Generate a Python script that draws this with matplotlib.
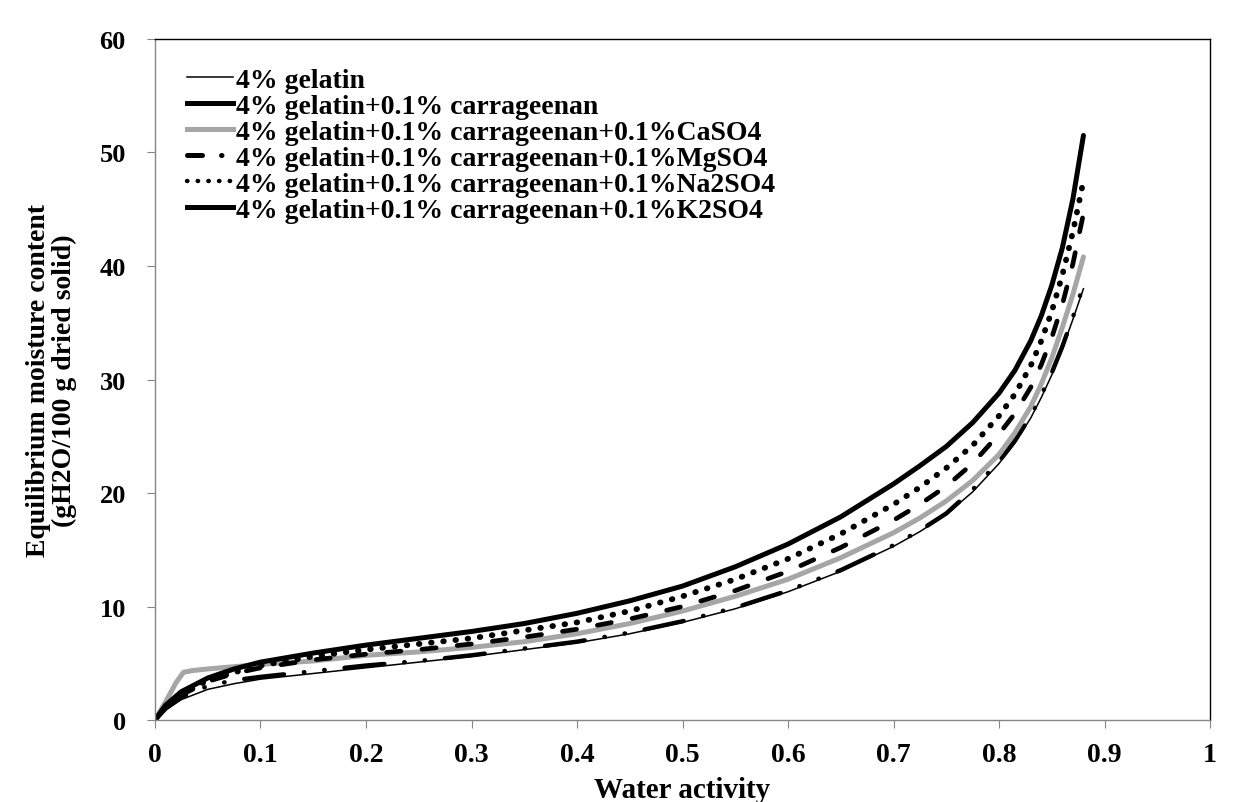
import matplotlib
matplotlib.use('Agg')
import matplotlib.pyplot as plt
from matplotlib.lines import Line2D

plt.rcParams['font.family'] = ['Liberation Serif', 'DejaVu Serif']
plt.rcParams['font.weight'] = 'bold'

# water activity points
aw = [0, 0.01, 0.025, 0.05, 0.075, 0.1, 0.15, 0.2, 0.25, 0.3, 0.35, 0.4, 0.45,
      0.5, 0.55, 0.6, 0.65, 0.7, 0.725, 0.75, 0.775, 0.8, 0.815, 0.83, 0.84,
      0.85, 0.86, 0.87, 0.88]
aw_ca = [0, 0.01, 0.02, 0.027, 0.035, 0.05, 0.075, 0.1, 0.15, 0.2, 0.25, 0.3,
         0.35, 0.4, 0.45, 0.5, 0.55, 0.6, 0.65, 0.7, 0.725, 0.75, 0.775, 0.8,
         0.815, 0.83, 0.84, 0.85, 0.86, 0.87, 0.88]

gelatin = [0, 0.9, 1.8, 2.7, 3.2, 3.6, 4.1, 4.6, 5.1, 5.6, 6.2, 6.8, 7.6,
           8.6, 9.8, 11.3, 13.1, 15.3, 16.6, 18.1, 20.1, 22.6, 24.4, 26.6, 28.4,
           30.4, 32.7, 35.3, 38.0]
carrageenan = [0, 1.1, 2.2, 3.4, 4.1, 4.6, 5.3, 5.8, 6.2, 6.7, 7.3, 8.0, 8.9,
               10.0, 11.4, 13.1, 15.2, 17.6, 19.0, 20.6, 22.6, 25.2, 27.0, 29.3, 31.3,
               33.7, 36.6, 40.2, 44.6]
caso4 = [0, 1.6, 3.3, 4.2, 4.35, 4.5, 4.7, 4.9, 5.2, 5.7, 6.0, 6.4,
         6.9, 7.6, 8.5, 9.6, 10.9, 12.4, 14.3, 16.5, 17.8, 19.3, 21.1, 23.4,
         25.3, 27.6, 29.6, 31.9, 34.6, 37.5, 40.8]
mgso4 = [0, 1.0, 2.0, 3.0, 3.5, 3.8, 4.3, 4.8, 5.2, 5.7, 6.3, 6.9, 7.7,
         8.7, 9.9, 11.4, 13.2, 15.4, 16.7, 18.2, 20.3, 22.8, 24.6, 26.8, 28.6,
         30.6, 32.9, 35.5, 38.3]
na2so4 = [0, 1.2, 2.3, 3.5, 4.2, 4.8, 5.6, 6.2, 6.7, 7.2, 7.9, 8.6, 9.6,
          10.9, 12.4, 14.2, 16.4, 19.0, 20.5, 22.2, 24.2, 26.8, 28.7, 31.2, 33.4,
          36.0, 39.2, 43.0, 47.5]
k2so4 = [0, 1.3, 2.5, 3.7, 4.5, 5.1, 5.9, 6.6, 7.2, 7.8, 8.5, 9.4, 10.5,
         11.8, 13.5, 15.5, 17.9, 20.8, 22.4, 24.1, 26.2, 28.8, 30.8, 33.4, 35.6,
         38.3, 41.6, 45.9, 51.5]

labels = ['4% gelatin',
          '4% gelatin+0.1% carrageenan',
          '4% gelatin+0.1% carrageenan+0.1%CaSO4',
          '4% gelatin+0.1% carrageenan+0.1%MgSO4',
          '4% gelatin+0.1% carrageenan+0.1%Na2SO4',
          '4% gelatin+0.1% carrageenan+0.1%K2SO4']

fig = plt.figure(figsize=(12.35, 8.03), dpi=100)
ax = fig.add_axes([0.1255, 0.1021, 0.8543, 0.8481])

gray = '#a6a6a6'
ax.plot(aw, gelatin, color='black', lw=1.1)
ax.plot(aw, mgso4, color='black', lw=3.2, linestyle=(0, (9, 4.5, 0.1, 4.5, 0.1, 4.5)),
        dash_capstyle='round')
ax.plot(aw_ca, caso4, color=gray, lw=3.6, solid_capstyle='round')
ax.plot(aw, carrageenan, color='black', lw=3.4, linestyle=(0, (3, 4.5)),
        dash_capstyle='round')
ax.plot(aw, na2so4, color='black', lw=4.2, linestyle=(0, (0.1, 2.0)),
        dash_capstyle='round')
ax.plot(aw, k2so4, color='black', lw=3.6, solid_capstyle='round')

# legend drawn as in the original
handles = [Line2D([], [], color='black', lw=1.1),
           Line2D([], [], color='black', lw=3.6),
           Line2D([], [], color=gray, lw=3.6),
           Line2D([], [], color='black', lw=3.6, linestyle=(0, (3, 3.8, 0.1, 10)),
                  dash_capstyle='round'),
           Line2D([], [], color='black', lw=3.2, linestyle=(0, (0.1, 2.3)),
                  dash_capstyle='round'),
           Line2D([], [], color='black', lw=3.6)]
ax.legend(handles, labels, loc='upper left', bbox_to_anchor=(0.02, 0.975),
          frameon=False, handlelength=1.65, handletextpad=0.1,
          labelspacing=0.02, borderaxespad=0,
          prop={'weight': 'bold', 'size': 20})

ax.set_xlim(0, 1)
ax.set_ylim(0, 60)
ax.set_xticks([i / 10 for i in range(11)])
ax.set_xticklabels(['0', '0.1', '0.2', '0.3', '0.4', '0.5', '0.6', '0.7', '0.8', '0.9', '1'])
ax.set_yticks(range(0, 61, 10))

for s in ['left', 'bottom']:
    ax.spines[s].set_color('#868686')
    ax.spines[s].set_linewidth(1.0)
for s in ['top', 'right']:
    ax.spines[s].set_color('black')
    ax.spines[s].set_linewidth(1.0)

ax.tick_params(axis='both', direction='out', length=6, color='#868686')
ax.tick_params(axis='y', pad=15, labelsize=19)
ax.tick_params(axis='x', pad=10, labelsize=20)
for t in ax.get_xticklabels() + ax.get_yticklabels():
    t.set_fontweight('bold')

ax.set_xlabel('Water activity', fontsize=21, fontweight='bold', labelpad=6)
ax.set_ylabel('Equilibrium moisture content\n(gH2O/100 g dried solid)',
              fontsize=20, fontweight='bold', labelpad=16, linespacing=1.05)

plt.savefig('out.png', dpi=100)
